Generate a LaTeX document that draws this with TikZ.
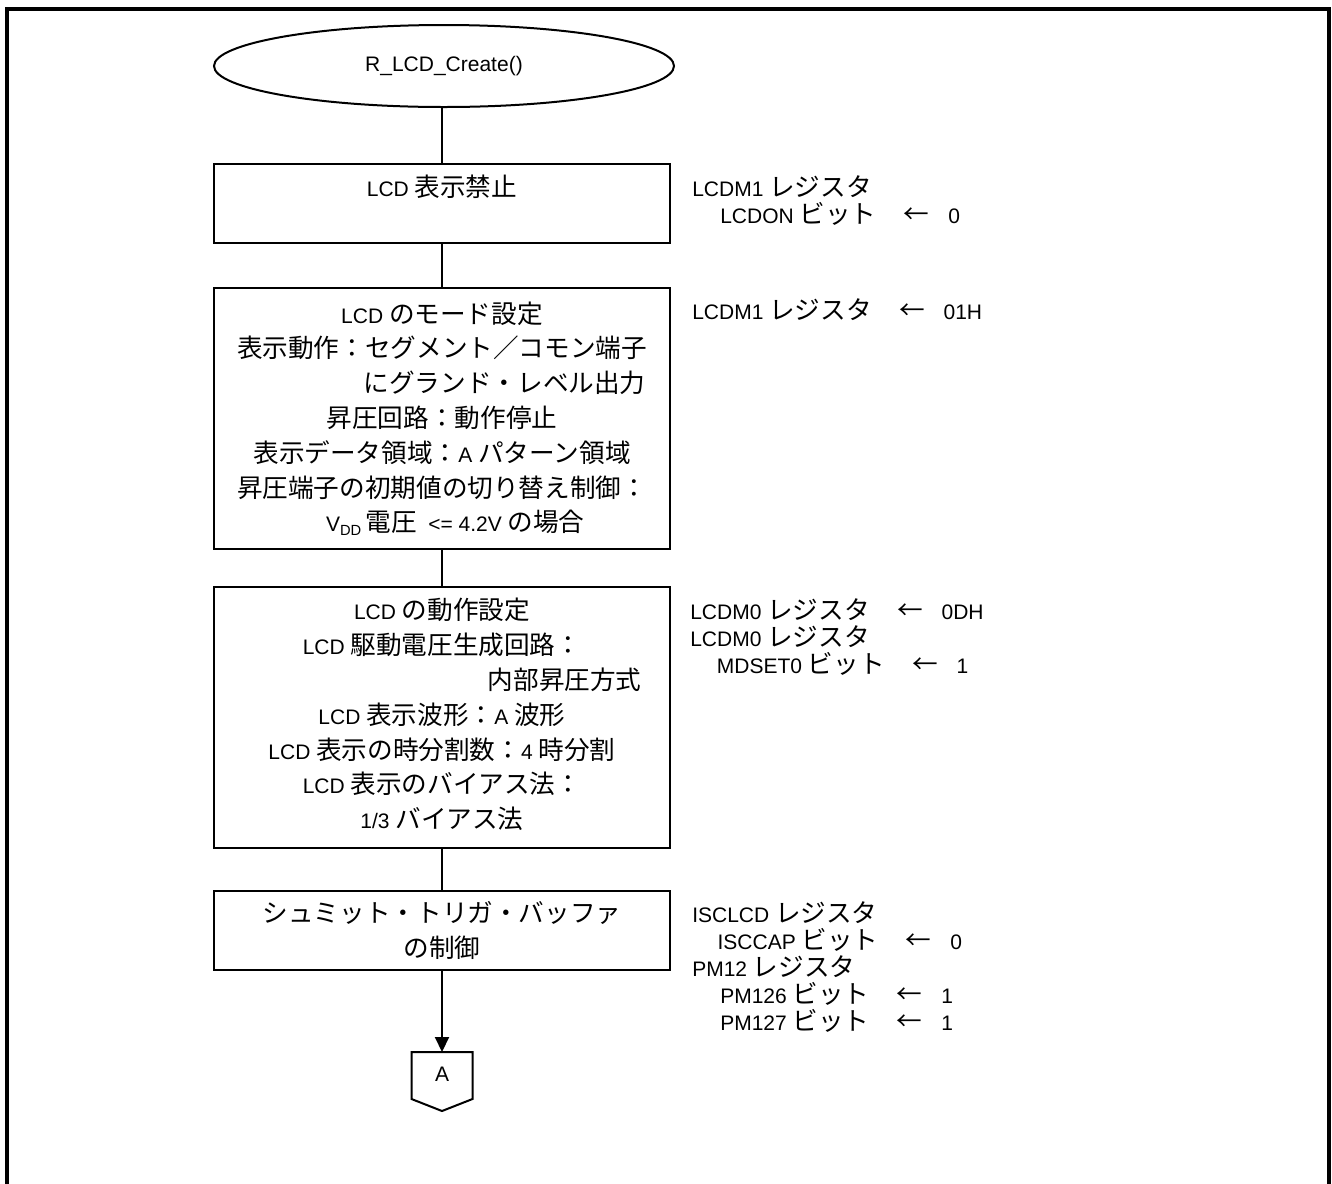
\documentclass[tikz,border=0pt]{standalone}
\usepackage{fontspec}
\setmainfont{Liberation Sans}
\newfontfamily\cjk[Scale=1.22]{Noto Sans CJK JP}
\usetikzlibrary{arrows.meta,shapes.geometric}
\newcommand\J[1]{{\cjk #1}}
\newcommand\la{\hspace{1.3em}\J{←}\hspace{0.9em}}
\begin{document}
\begin{tikzpicture}[x=0.75pt,y=-0.75pt,
  every node/.style={font={\fontsize{15.75pt}{26.1pt}\selectfont}},
  box/.style={draw, line width=1.5pt, minimum width=342pt, align=center, inner sep=0pt},
  conn/.style={line width=1.5pt},
  note/.style={anchor=north west, align=left, inner sep=0pt, font={\fontsize{15.75pt}{20.25pt}\selectfont}}]
\useasboundingbox (0,0) rectangle (1332,1183);
\draw[line width=2.6pt] (7,1190) -- (7,9) -- (1329,9) -- (1329,1190);

\node[draw, ellipse, line width=1.5pt, minimum width=345pt, minimum height=61.5pt, inner sep=0pt] (start) at (444,66) {R\_LCD\_Create()};

\node[box, minimum height=59.25pt] (b1) at (442,203.5) {LCD \J{表示禁止}\\ \mbox{}};

\node[box, minimum height=195.75pt] (b2) at (442,418.5) {LCD \J{のモード設定}\\
\J{表示動作：セグメント／コモン端子}\\
\hspace*{94pt}\J{にグランド・レベル出力}\\
\J{昇圧回路：動作停止}\\
\J{表示データ領域：}A \J{パターン領域}\\
\J{昇圧端子の初期値の切り替え制御：}\\
\hspace*{20pt}V\textsubscript{DD}\,\J{電圧}\ \ <= 4.2V \J{の場合}};

\node[box, minimum height=195.75pt] (b3) at (442,717.5) {LCD \J{の動作設定}\\
LCD \J{駆動電圧生成回路：}\\
\hspace*{184pt}\J{内部昇圧方式}\\
LCD \J{表示波形：}A \J{波形}\\
LCD \J{表示の時分割数：}4 \J{時分割}\\
LCD \J{表示のバイアス法：}\\
1/3 \J{バイアス法}\\[-20pt]\mbox{}};

\node[box, minimum height=59.25pt] (b4) at (442,930.5) {\J{シュミット・トリガ・バッファ}\\
\J{の制御}};

\coordinate (Atop) at (442,1052);
\draw[line width=1.5pt] (411.5,1052) -- (472.5,1052) -- (472.5,1099) -- (442,1111) -- (411.5,1099) -- cycle;
\node (A) at (442,1074) {A};

\draw[conn] (b1.north |- start.south) -- (b1.north);
\draw[conn] (b1.south) -- (b2.north);
\draw[conn] (b2.south) -- (b3.north);
\draw[conn] (b3.south) -- (b4.north);
\draw[conn, -{Triangle[length=11.25pt,width=10.5pt]}] (b4.south) -- (Atop);

\node[note] (n1) at (692,175) {LCDM1 \J{レジスタ}\\
\hspace*{21pt}LCDON \J{ビット}\la 0};
\node[note] (n2) at (692,298) {LCDM1 \J{レジスタ}\la 01H};
\node[note] (n3) at (690,598) {LCDM0 \J{レジスタ}\la 0DH\\
LCDM0 \J{レジスタ}\\
\hspace*{20pt}MDSET0 \J{ビット}\la 1};
\node[note] (n4) at (692,901) {ISCLCD \J{レジスタ}\\
\hspace*{19pt}ISCCAP \J{ビット}\la 0\\
PM12 \J{レジスタ}\\
\hspace*{21pt}PM126 \J{ビット}\la 1\\
\hspace*{21pt}PM127 \J{ビット}\la 1};
\end{tikzpicture}
\end{document}
